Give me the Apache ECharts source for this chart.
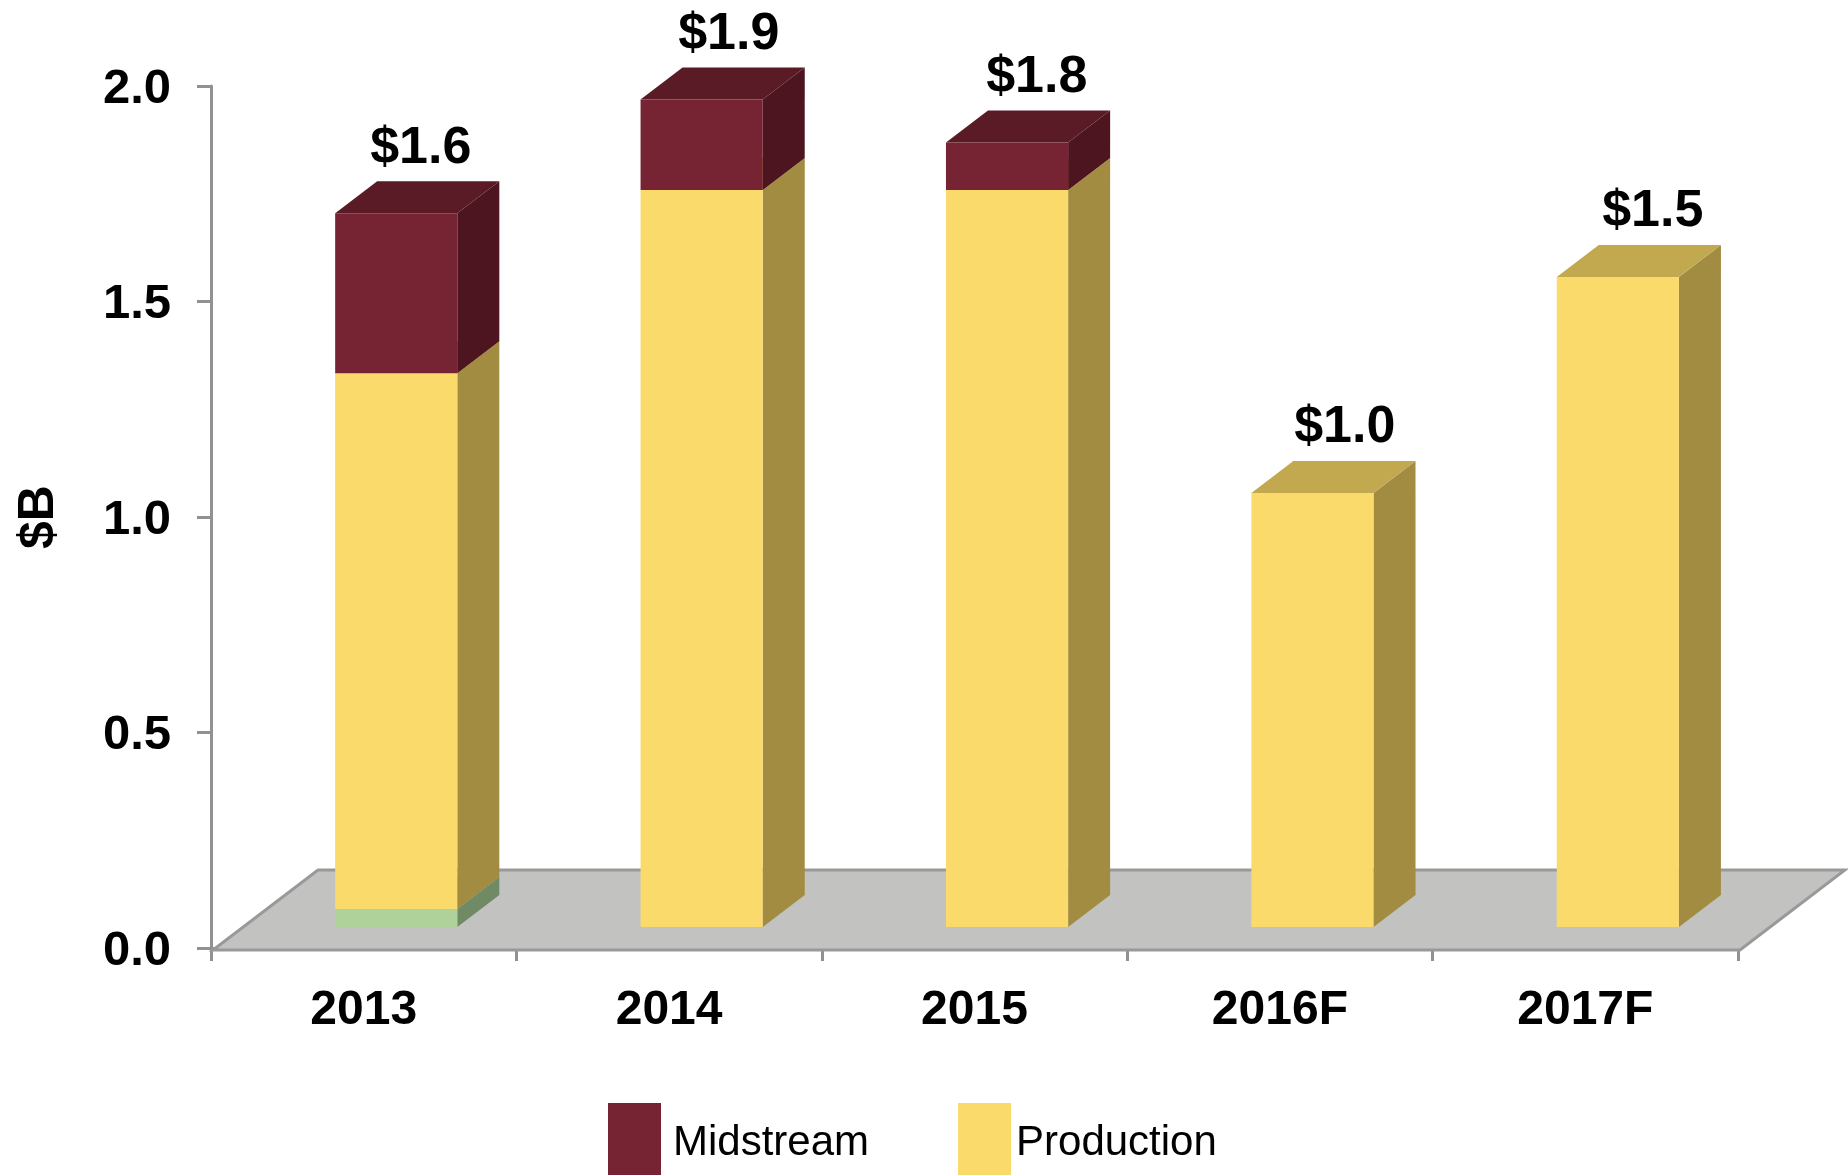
<!DOCTYPE html>
<html>
<head>
<meta charset="utf-8">
<title>Capex</title>
<style>
  html, body { margin: 0; padding: 0; background: #fff; }
  #chart { width: 1848px; height: 1175px; }
</style>
<script src="https://cdn.jsdelivr.net/npm/echarts@6/dist/echarts.min.js"></script>
</head>
<body>
<div id="chart"></div>
<script>
const categories = ['2013', '2014', '2015', '2016F', '2017F']
const otherValues = [0.042, 0, 0, 0, 0]
const productionValues = [1.243, 1.71, 1.71, 1.007, 1.508]
const midstreamValues = [0.371, 0.21, 0.11, 0, 0]
const totalLabels = ['$1.6', '$1.9', '$1.8', '$1.0', '$1.5']
const yTicks = [0, 0.5, 1, 1.5, 2]

const FONT = '"Liberation Sans", Arial, sans-serif'
const AXIS_COLOR = '#919191'
// oblique offset of the fake 3D bars, and the shift of the front face from the axis
const DEPTH_X = 42
const DEPTH_Y = -32
const FRONT_X = 2
const FRONT_Y = -21

const poly = (points, fill) => ({
  type: 'polygon',
  shape: { points },
  style: { fill, stroke: null }
})

// one stacked box: [category index, bottom value, top value]
const boxRenderer = (front, side, top) => (params, api) => {
  const bottom = api.value(1)
  const upper = api.value(2)
  if (upper <= bottom) return null
  const band = api.size([1, 0])[0]
  const width = band * 0.4
  const center = api.coord([api.value(0), 0])[0]
  const x0 = center - width / 2 + band * 0.1 + FRONT_X
  const x1 = x0 + width
  const y0 = api.coord([api.value(0), bottom])[1] + FRONT_Y
  const y1 = api.coord([api.value(0), upper])[1] + FRONT_Y
  return {
    type: 'group',
    children: [
      poly([[x1, y0], [x1 + DEPTH_X, y0 + DEPTH_Y], [x1 + DEPTH_X, y1 + DEPTH_Y], [x1, y1]], side),
      poly([[x0, y1], [x0 + DEPTH_X, y1 + DEPTH_Y], [x1 + DEPTH_X, y1 + DEPTH_Y], [x1, y1]], top),
      poly([[x0, y0], [x1, y0], [x1, y1], [x0, y1]], front)
    ]
  }
}

const layer = (name, values, below, colors) => ({
  name,
  type: 'custom',
  z: 3,
  silent: true,
  itemStyle: { color: colors[0] },
  renderItem: boxRenderer(colors[0], colors[1], colors[2]),
  encode: { x: 0, y: 2 },
  data: values.map((v, i) => [i, below[i], below[i] + v])
})

const productionBase = otherValues
const midstreamBase = productionValues.map((v, i) => v + otherValues[i])
const totals = midstreamValues.map((v, i) => v + midstreamBase[i])

const floorSeries = {
  name: 'floor',
  type: 'custom',
  z: 1,
  silent: true,
  renderItem: (params) => {
    const g = params.coordSys
    const y = g.y + g.height + 2
    const dx = 105
    const dy = -80
    return {
      type: 'polygon',
      shape: {
        points: [[g.x + 2, y], [g.x + g.width + 2, y], [g.x + g.width + 2 + dx, y + dy], [g.x + 2 + dx, y + dy]]
      },
      style: { fill: '#c2c2c0', stroke: '#999999', lineWidth: 3 }
    }
  },
  data: [[0, 0]]
}

const totalSeries = {
  name: 'total',
  type: 'custom',
  z: 5,
  silent: true,
  renderItem: (params, api) => {
    const band = api.size([1, 0])[0]
    const p = api.coord([api.value(0), api.value(1)])
    return {
      type: 'text',
      // labels in the original drift a little to the right across the chart
      x: p[0] + band * 0.2 - 4 + 2.6 * params.dataIndex,
      y: p[1] + FRONT_Y + DEPTH_Y - 33,
      style: {
        text: totalLabels[params.dataIndex],
        font: 'bold 52px ' + FONT,
        fill: '#000',
        align: 'center',
        verticalAlign: 'middle'
      }
    }
  },
  encode: { x: 0, y: 1 },
  data: totals.map((v, i) => [i, v])
}

const legendText = { fontFamily: FONT, fontSize: 42, color: '#000' }

const chart = echarts.init(document.getElementById('chart'))
chart.setOption({
  animation: false,
  backgroundColor: '#fff',
  grid: { left: 211, right: 110, top: 86, height: 862, containLabel: false, outerBoundsMode: 'none' },
  legend: {
    left: 603,
    top: 1098,
    icon: 'rect',
    itemWidth: 53,
    itemHeight: 72,
    itemGap: 89,
    selectedMode: false,
    data: ['Midstream', 'Production'],
    formatter: (name) => (name === 'Midstream' ? '{m|' + name + '}' : '{p|' + name + '}'),
    textStyle: {
      ...legendText,
      rich: {
        m: { ...legendText, padding: [9, 0, 0, 7] },
        p: { ...legendText, padding: [9, 0, 0, 0] }
      }
    }
  },
  xAxis: {
    type: 'category',
    data: categories,
    offset: 3,
    axisLine: { lineStyle: { color: AXIS_COLOR, width: 3 } },
    axisTick: { show: true, length: 13, lineStyle: { color: AXIS_COLOR, width: 3 } },
    axisLabel: { fontFamily: FONT, fontSize: 48, fontWeight: 'bold', color: '#000', margin: 36 }
  },
  yAxis: {
    type: 'value',
    min: 0,
    max: 2,
    interval: 0.5,
    name: '$B',
    nameLocation: 'middle',
    nameGap: 147,
    nameRotate: 90,
    nameMoveOverlap: false,
    nameTextStyle: { fontFamily: FONT, fontSize: 50, fontWeight: 'bold', color: '#000' },
    splitLine: { show: false },
    axisLine: { show: true, lineStyle: { color: AXIS_COLOR, width: 3 } },
    axisTick: { show: true, length: 14, lineStyle: { color: AXIS_COLOR, width: 3 } },
    axisLabel: {
      margin: 40,
      customValues: yTicks,
      formatter: (v) => '{v|' + v.toFixed(1) + '}',
      rich: {
        v: { fontFamily: FONT, fontSize: 49, fontWeight: 'bold', color: '#000', padding: [6, 0, 0, 0] }
      }
    }
  },
  series: [
    floorSeries,
    layer('Other', otherValues, categories.map(() => 0), ['#afd19a', '#6f8a65', '#8fa87e']),
    layer('Production', productionValues, productionBase, ['#fada6b', '#a18c42', '#c2a94f']),
    layer('Midstream', midstreamValues, midstreamBase, ['#762433', '#4d1520', '#5a1a26']),
    totalSeries
  ]
})

window.addEventListener('resize', () => chart.resize())
</script>
</body>
</html>
